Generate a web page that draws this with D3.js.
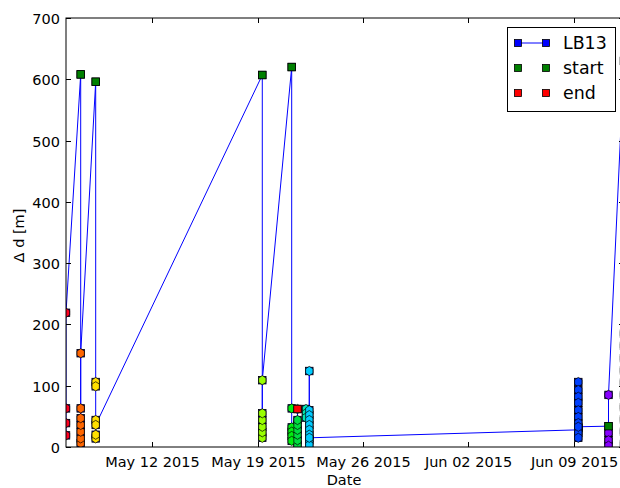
<!DOCTYPE html>
<html><head><meta charset="utf-8">
<script src="https://cdn.jsdelivr.net/npm/d3@7"></script>
<style>
html,body{margin:0;padding:0;background:#fff;}
svg{display:block;font-family:"DejaVu Sans",sans-serif;}
</style></head><body>
<svg id="chart" width="620" height="488"></svg>
<script>
// Survey passes of LB13: one timestamp per pass and the Δd values logged during it, in order
const passTimes = [
  "2015-05-06T07:00Z", "2015-05-07T06:24Z", "2015-05-08T06:18Z", "2015-05-19T07:37Z",
  "2015-05-21T06:27Z", "2015-05-21T15:41Z", "2015-05-22T05:13Z", "2015-05-22T10:28Z",
  "2015-06-09T06:53Z", "2015-06-11T07:00Z", "2015-06-12T07:40Z"
];
const passValues = [
  [19, 39, 63, 219],
  [6, 14, 25, 36, 47, 63, 153],
  [106, 99, 14, 20, 44, 36],
  [15, 24, 33, 44, 55, 109],
  [63, 32, 25, 18, 10],
  [3, 11, 20, 28, 36, 44, 62],
  [62, 55, 48],
  [60, 52, 44, 36, 28, 20, 11, 3, 124, 15],
  [28, 106, 93, 82, 72, 60, 49, 39, 31, 23, 15, 33],
  [23, 11, 2, 85],
  [185, 165, 145, 125, 105, 85, 65, 45, 25, 5]
];
// Start / end points of passes (pass index + value)
const startPass = [1, 2, 3, 4, 9, 10];
const startValues = [608, 596, 607, 620, 34, 630];
const endPass = [5];
const endValues = [62];

const xTicks = ["2015-05-12T00:00Z", "2015-05-19T00:00Z", "2015-05-26T00:00Z", "2015-06-02T00:00Z", "2015-06-09T00:00Z"];
const yTicks = [0, 100, 200, 300, 400, 500, 600, 700];
const legendLabels = ["LB13", "start", "end"];

// Marker fill per pass (rainbow order through the campaign)
const passColors = ["#ff0020", "#ff6600", "#ffe000", "#99ff00", "#00ee10", "#00dd40",
  "#00e8b0", "#00ccff", "#0040ff", "#8800ff", "#ff00c8"];

const parse = d3.isoParse;
const svg = d3.select("#chart");
const L = 66, T = 18, R = 624, B = 447;

const x = d3.scaleUtc()
  .domain([parse(passTimes[0]), parse(passTimes[passTimes.length - 1])])
  .range([L, R]);
const y = d3.scaleLinear().domain([0, 700]).range([B, T]);

// Assemble the LB13 track: start point (if any) followed by the pass values
const track = [];
passTimes.forEach((t, i) => {
  const time = parse(t);
  const si = startPass.indexOf(i);
  if (si >= 0) track.push({t: time, v: startValues[si]});
  passValues[i].forEach(v => track.push({t: time, v}));
});
const passPts = passTimes.flatMap((t, i) => passValues[i].map(v => ({t: parse(t), v, i})));
const startPts = startPass.map((p, k) => ({t: parse(passTimes[p]), v: startValues[k]}));
const endPts = endPass.map((p, k) => ({t: parse(passTimes[p]), v: endValues[k]}));

svg.append("defs").append("clipPath").attr("id", "plotclip")
  .append("rect").attr("x", L).attr("y", T).attr("width", R - L).attr("height", B - T);

const plot = svg.append("g").attr("clip-path", "url(#plotclip)");

const sq = 7.5;
const hexPath = (() => {
  const r = 4.6;
  const pts = d3.range(6).map(k => {
    const a = Math.PI / 2 + k * Math.PI / 3;
    return [r * Math.cos(a) * 0.92, -r * Math.sin(a)];
  });
  return "M" + pts.map(p => p.join(",")).join("L") + "Z";
})();

// track line
plot.append("path")
  .datum(track)
  .attr("fill", "none")
  .attr("stroke", "#0000ff")
  .attr("stroke-width", 1)
  .attr("d", d3.line().x(d => x(d.t)).y(d => y(d.v)));

// track squares
plot.append("g").selectAll("rect").data(track).join("rect")
  .attr("x", d => x(d.t) - sq / 2).attr("y", d => y(d.v) - sq / 2)
  .attr("width", sq).attr("height", sq)
  .attr("fill", "#0000ff").attr("stroke", "#000").attr("stroke-width", 0.8);

// per-pass coloured markers
plot.append("g").selectAll("path").data(passPts).join("path")
  .attr("d", hexPath)
  .attr("transform", d => `translate(${x(d.t)},${y(d.v)})`)
  .attr("fill", d => passColors[d.i])
  .attr("stroke", "#000").attr("stroke-width", 0.7);

// end / start squares on top
plot.append("g").selectAll("rect").data(endPts).join("rect")
  .attr("x", d => x(d.t) - sq / 2).attr("y", d => y(d.v) - sq / 2)
  .attr("width", sq).attr("height", sq)
  .attr("fill", "#ff0000").attr("stroke", "#000").attr("stroke-width", 0.8);
plot.append("g").selectAll("rect").data(startPts).join("rect")
  .attr("x", d => x(d.t) - sq / 2).attr("y", d => y(d.v) - sq / 2)
  .attr("width", sq).attr("height", sq)
  .attr("fill", "#008000").attr("stroke", "#000").attr("stroke-width", 0.8);

// frame
svg.append("rect").attr("x", L).attr("y", T).attr("width", R - L).attr("height", B - T)
  .attr("fill", "none").attr("stroke", "#000").attr("stroke-width", 1);

const tickLen = 5;
const axes = svg.append("g").attr("font-size", "14.5px").attr("fill", "#000");
// x ticks (bottom + top, inward)
xTicks.forEach(s => {
  const xv = Math.round(x(parse(s))) + 0.5;
  axes.append("line").attr("x1", xv).attr("x2", xv).attr("y1", B).attr("y2", B - tickLen).attr("stroke", "#000");
  axes.append("line").attr("x1", xv).attr("x2", xv).attr("y1", T).attr("y2", T + tickLen).attr("stroke", "#000");
  axes.append("text").attr("x", xv).attr("y", 467).attr("text-anchor", "middle")
    .text(d3.utcFormat("%b %d %Y")(parse(s)));
});
// y ticks (left + right, inward)
yTicks.forEach(v => {
  const yv = Math.round(y(v)) + 0.5;
  axes.append("line").attr("x1", L).attr("x2", L + tickLen).attr("y1", yv).attr("y2", yv).attr("stroke", "#000");
  axes.append("line").attr("x1", R).attr("x2", R - tickLen).attr("y1", yv).attr("y2", yv).attr("stroke", "#000");
  axes.append("text").attr("x", 60).attr("y", yv + 5).attr("text-anchor", "end").text(v);
});

axes.append("text").attr("x", 344).attr("y", 485).attr("text-anchor", "middle").text("Date");
axes.append("text").attr("transform", `translate(24,${(T + B) / 2 + 3}) rotate(-90)`)
  .attr("text-anchor", "middle").text("Δ d [m]");

// legend
const lg = svg.append("g");
lg.append("rect").attr("x", 507.5).attr("y", 27.5).attr("width", 108).attr("height", 84)
  .attr("fill", "#fff").attr("stroke", "#000").attr("stroke-width", 1);
const legendFill = ["#0000ff", "#008000", "#ff0000"];
legendLabels.forEach((lab, k) => {
  const cy = 43 + k * 25;
  if (k === 0) lg.append("line").attr("x1", 518).attr("x2", 546).attr("y1", cy).attr("y2", cy)
    .attr("stroke", "#0000ff").attr("stroke-width", 1);
  [518, 546].forEach(cx => lg.append("rect")
    .attr("x", cx - 3.5).attr("y", cy - 3.5).attr("width", 7).attr("height", 7)
    .attr("fill", legendFill[k]).attr("stroke", "#000").attr("stroke-width", 0.8));
  lg.append("text").attr("x", 563).attr("y", cy + 6).attr("font-size", "17.4px").text(lab);
});
</script></body></html>
